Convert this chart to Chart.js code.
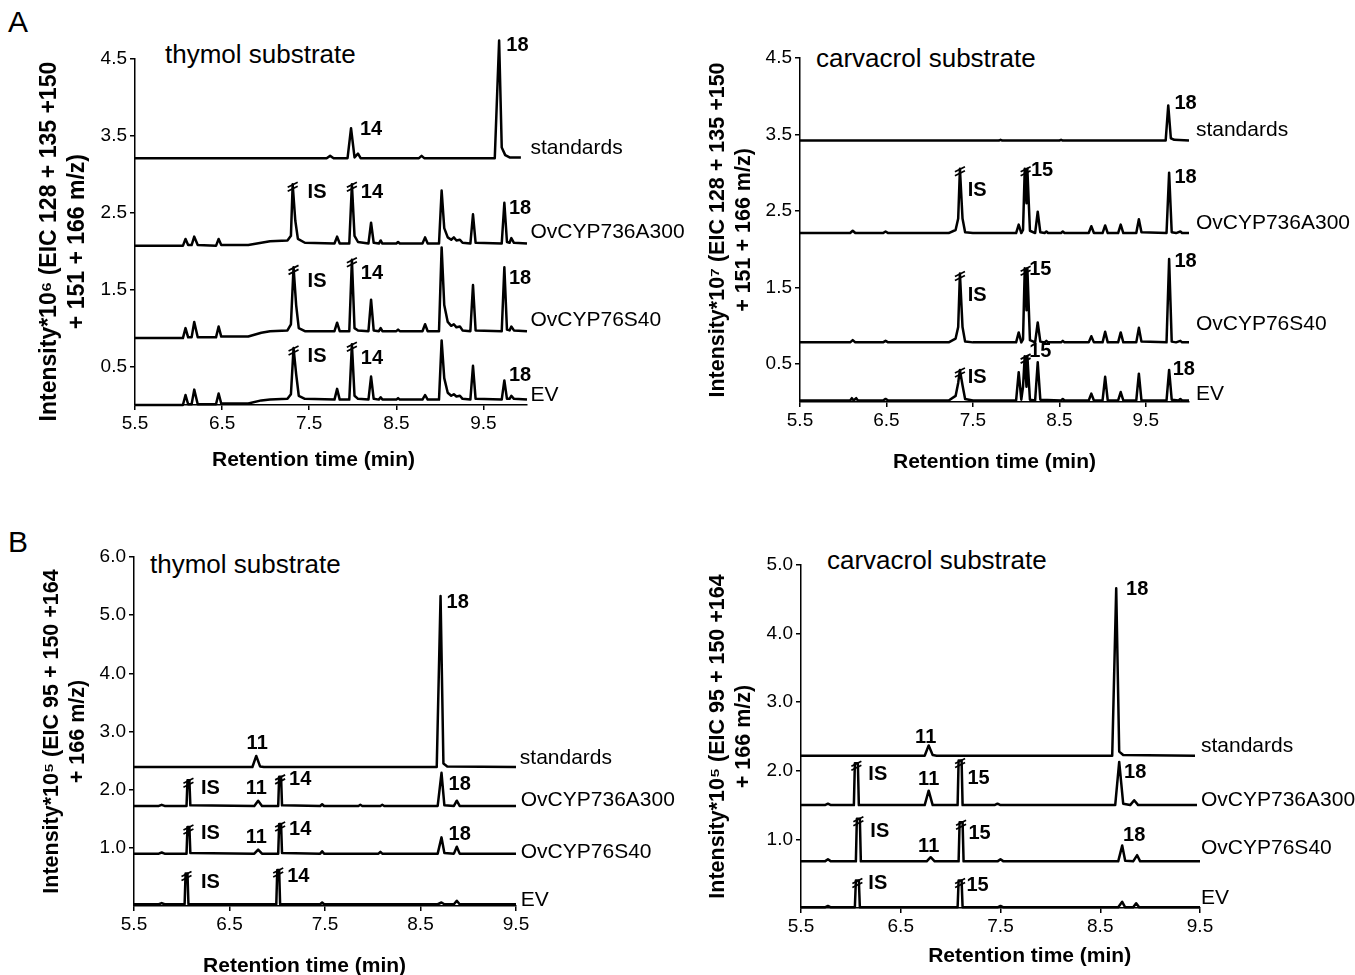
<!DOCTYPE html>
<html>
<head>
<meta charset="utf-8">
<script src="https://cdn.jsdelivr.net/npm/chart.js@4.4.1/dist/chart.umd.min.js"></script>
<style>
  html, body { margin: 0; padding: 0; background: #fff; overflow: hidden; }
  body { width: 1355px; height: 975px; position: relative; font-family: 'Liberation Sans', Arial, sans-serif; color: #000; }
  canvas { position: absolute; }
  .txt { position: absolute; white-space: nowrap; line-height: 1.1; }
  .big { font-size: 30px; }
  .ttl { font-size: 26px; }
</style>
</head>
<body>
<div class="txt big" style="left:8px;top:5px">A</div>
<div class="txt big" style="left:8px;top:525px">B</div>
<div class="txt ttl" style="left:165px;top:40px">thymol substrate</div>
<div class="txt ttl" style="left:816px;top:44px">carvacrol substrate</div>
<div class="txt ttl" style="left:150px;top:550px">thymol substrate</div>
<div class="txt ttl" style="left:827px;top:546px">carvacrol substrate</div>

<canvas id="aLeft" width="690" height="480" style="left:0;top:0"></canvas>
<canvas id="aRight" width="675" height="480" style="left:680px;top:0"></canvas>
<canvas id="bLeft" width="690" height="485" style="left:0;top:500px"></canvas>
<canvas id="bRight" width="675" height="475" style="left:680px;top:500px"></canvas>

<script>
const FONT = "'Liberation Sans', Arial, sans-serif";

// ---- A, thymol substrate (retention time, intensity*10^6) ----
const aLeftStd = [[5.5,3.21],[7.70,3.21],[7.74,3.24],[7.78,3.21],[7.94,3.21],[7.98,3.60],[8.02,3.22],[8.06,3.27],[8.09,3.21],[8.76,3.21],[8.79,3.24],[8.82,3.21],[9.63,3.21],[9.68,4.74],[9.71,3.35],[9.75,3.25],[9.80,3.22],[9.93,3.22]];
const aLeftA300 = [[5.5,2.07],[6.05,2.07],[6.08,2.16],[6.11,2.08],[6.15,2.08],[6.18,2.19],[6.22,2.08],[6.43,2.07],[6.46,2.16],[6.49,2.08],[6.80,2.08],[6.95,2.11],[7.05,2.13],[7.25,2.14],[7.29,2.20],[7.31,2.87],[7.34,2.40],[7.37,2.16],[7.45,2.11],[7.79,2.10],[7.82,2.19],[7.85,2.10],[7.96,2.10],[7.99,2.87],[8.02,2.20],[8.06,2.12],[8.18,2.10],[8.21,2.37],[8.24,2.11],[8.30,2.10],[8.32,2.14],[8.34,2.10],[8.50,2.10],[8.52,2.12],[8.54,2.10],[8.80,2.10],[8.83,2.18],[8.86,2.10],[8.99,2.10],[9.02,2.79],[9.05,2.30],[9.09,2.18],[9.13,2.15],[9.16,2.18],[9.19,2.14],[9.23,2.15],[9.26,2.11],[9.35,2.10],[9.38,2.48],[9.41,2.11],[9.71,2.10],[9.74,2.63],[9.77,2.12],[9.80,2.11],[9.82,2.17],[9.85,2.11],[10.0,2.10]];
const aLeftS40 = [[5.5,0.87],[6.05,0.87],[6.08,1.00],[6.11,0.88],[6.15,0.88],[6.18,1.08],[6.22,0.88],[6.43,0.88],[6.46,1.02],[6.49,0.89],[6.80,0.89],[6.95,0.94],[7.05,0.96],[7.25,0.97],[7.29,1.05],[7.32,1.79],[7.35,1.30],[7.38,1.00],[7.45,0.96],[7.79,0.96],[7.82,1.07],[7.85,0.96],[7.96,0.96],[7.99,1.89],[8.02,1.00],[8.06,0.97],[8.18,0.96],[8.21,1.37],[8.24,0.97],[8.30,0.96],[8.32,1.00],[8.34,0.96],[8.50,0.96],[8.52,0.98],[8.54,0.96],[8.80,0.96],[8.83,1.05],[8.86,0.96],[8.99,0.96],[9.02,2.05],[9.05,1.30],[9.09,1.08],[9.13,1.03],[9.16,1.05],[9.19,1.01],[9.23,1.02],[9.26,0.97],[9.35,0.96],[9.38,1.56],[9.41,0.97],[9.71,0.96],[9.74,1.79],[9.77,0.98],[9.80,0.97],[9.82,1.02],[9.85,0.97],[10.0,0.96]];
const aLeftEV = [[5.5,0.00],[6.05,0.00],[6.08,0.13],[6.11,0.01],[6.15,0.01],[6.18,0.20],[6.22,0.01],[6.43,0.01],[6.46,0.15],[6.49,0.02],[6.80,0.02],[6.95,0.06],[7.05,0.07],[7.25,0.08],[7.29,0.14],[7.32,0.74],[7.35,0.40],[7.38,0.12],[7.45,0.08],[7.79,0.07],[7.82,0.21],[7.85,0.07],[7.96,0.07],[7.99,0.79],[8.02,0.12],[8.06,0.08],[8.18,0.07],[8.21,0.37],[8.24,0.08],[8.30,0.07],[8.32,0.10],[8.34,0.07],[8.50,0.07],[8.52,0.09],[8.54,0.07],[8.80,0.07],[8.83,0.13],[8.86,0.07],[8.99,0.07],[9.02,0.84],[9.05,0.35],[9.09,0.16],[9.13,0.12],[9.16,0.14],[9.19,0.11],[9.23,0.12],[9.26,0.08],[9.35,0.07],[9.38,0.51],[9.41,0.08],[9.71,0.07],[9.74,0.32],[9.77,0.08],[9.80,0.08],[9.82,0.12],[9.85,0.08],[10.0,0.07]];
const aLeftBreaks = [[7.31,2.87],[7.99,2.87],[7.32,1.79],[7.99,1.89],[7.32,0.74],[7.99,0.79]];
const aLeftPeakLabels = [['18',9.89,4.67],['14',8.21,3.58],['IS',7.59,2.76],['14',8.22,2.76],['18',9.92,2.56],['IS',7.59,1.61],['14',8.22,1.71],['18',9.92,1.65],['IS',7.59,0.63],['14',8.22,0.60],['18',9.92,0.38]];
const aLeftTraceLabels = [['standards',10.04,3.34],['OvCYP736A300',10.04,2.25],['OvCYP76S40',10.04,1.10],['EV',10.04,0.13]];

// ---- A, carvacrol substrate (intensity*10^7) ----
const aRightStd = [[5.5,3.42],[7.80,3.42],[7.82,3.43],[7.84,3.42],[8.50,3.42],[8.52,3.43],[8.54,3.42],[9.73,3.42],[9.76,3.88],[9.79,3.45],[9.83,3.43],[10.0,3.42]];
const aRightA300 = [[5.5,2.21],[6.08,2.21],[6.11,2.24],[6.14,2.21],[6.46,2.21],[6.49,2.23],[6.52,2.21],[7.22,2.21],[7.30,2.25],[7.33,2.40],[7.35,3.05],[7.38,2.40],[7.41,2.22],[7.50,2.21],[8.00,2.21],[8.03,2.32],[8.06,2.21],[8.08,2.25],[8.10,3.05],[8.12,2.60],[8.13,3.05],[8.16,2.24],[8.22,2.21],[8.25,2.49],[8.28,2.22],[8.33,2.21],[8.35,2.23],[8.37,2.21],[8.52,2.21],[8.54,2.23],[8.56,2.21],[8.84,2.21],[8.87,2.30],[8.90,2.21],[9.00,2.21],[9.03,2.31],[9.06,2.21],[9.18,2.21],[9.21,2.32],[9.24,2.21],[9.39,2.21],[9.42,2.39],[9.45,2.22],[9.74,2.21],[9.77,3.00],[9.80,2.22],[9.85,2.21],[9.90,2.23],[9.92,2.21],[10.0,2.21]];
const aRightS40 = [[5.5,0.78],[6.08,0.78],[6.11,0.81],[6.14,0.78],[6.46,0.78],[6.49,0.80],[6.52,0.78],[7.22,0.78],[7.30,0.83],[7.33,0.98],[7.35,1.68],[7.38,0.98],[7.41,0.79],[7.50,0.78],[8.00,0.78],[8.03,0.91],[8.06,0.78],[8.08,0.82],[8.10,1.75],[8.12,1.20],[8.13,1.75],[8.16,0.81],[8.22,0.78],[8.25,1.04],[8.28,0.79],[8.33,0.78],[8.35,0.80],[8.37,0.78],[8.52,0.78],[8.54,0.80],[8.56,0.78],[8.84,0.78],[8.87,0.86],[8.90,0.78],[9.00,0.78],[9.03,0.92],[9.06,0.78],[9.18,0.78],[9.21,0.91],[9.24,0.78],[9.39,0.78],[9.42,0.97],[9.45,0.79],[9.74,0.78],[9.77,1.87],[9.80,0.79],[9.85,0.78],[9.90,0.80],[9.92,0.78],[10.0,0.78]];
const aRightEV = [[5.5,0.02],[6.08,0.02],[6.10,0.05],[6.12,0.02],[6.15,0.05],[6.17,0.02],[6.46,0.02],[6.49,0.04],[6.52,0.02],[7.22,0.02],[7.30,0.08],[7.33,0.25],[7.35,0.42],[7.38,0.22],[7.41,0.04],[7.50,0.02],[8.00,0.02],[8.03,0.39],[8.06,0.03],[8.08,0.20],[8.10,0.60],[8.12,0.20],[8.13,0.60],[8.16,0.03],[8.22,0.02],[8.25,0.52],[8.28,0.03],[8.52,0.02],[8.54,0.04],[8.56,0.02],[8.84,0.02],[8.87,0.11],[8.90,0.02],[9.00,0.02],[9.03,0.33],[9.06,0.02],[9.18,0.02],[9.21,0.13],[9.24,0.02],[9.39,0.02],[9.42,0.37],[9.45,0.02],[9.74,0.02],[9.77,0.42],[9.80,0.03],[9.88,0.02],[9.90,0.04],[9.92,0.02],[10.0,0.02]];
const aRightBreaks = [[7.35,3.05],[8.11,3.05],[7.35,1.68],[8.11,1.75],[7.35,0.42],[8.11,0.60]];
const aRightPeakLabels = [['18',9.96,3.91],['IS',7.55,2.77],['15',8.30,3.03],['18',9.96,2.94],['IS',7.55,1.39],['15',8.28,1.74],['18',9.96,1.84],['IS',7.55,0.32],['15',8.28,0.66],['18',9.94,0.42]];
const aRightTraceLabels = [['standards',10.08,3.55],['OvCYP736A300',10.08,2.34],['OvCYP76S40',10.08,1.02],['EV',10.08,0.10]];

// ---- B, thymol substrate (intensity*10^5) ----
const bLeftStd = [[5.5,2.39],[6.74,2.39],[6.78,2.58],[6.82,2.40],[6.86,2.39],[8.67,2.39],[8.71,5.33],[8.74,2.45],[8.78,2.40],[9.5,2.39]];
const bLeftA300 = [[5.5,1.72],[5.76,1.72],[5.79,1.74],[5.82,1.72],[6.05,1.72],[6.06,2.16],[6.08,2.16],[6.09,1.73],[6.76,1.72],[6.80,1.81],[6.84,1.72],[7.01,1.72],[7.02,2.22],[7.04,2.22],[7.05,1.73],[7.45,1.72],[7.47,1.75],[7.49,1.72],[7.85,1.72],[7.87,1.74],[7.89,1.72],[8.08,1.72],[8.10,1.74],[8.12,1.72],[8.68,1.72],[8.72,2.29],[8.75,1.73],[8.85,1.72],[8.88,1.81],[8.91,1.72],[9.5,1.72]];
const bLeftS40 = [[5.5,0.90],[5.76,0.90],[5.79,0.92],[5.82,0.90],[6.05,0.90],[6.06,1.36],[6.08,1.36],[6.09,0.91],[6.76,0.90],[6.80,0.97],[6.84,0.90],[7.01,0.90],[7.02,1.41],[7.04,1.41],[7.05,0.91],[7.45,0.90],[7.47,0.94],[7.49,0.90],[8.06,0.90],[8.08,0.93],[8.10,0.90],[8.68,0.90],[8.72,1.18],[8.75,0.91],[8.85,0.90],[8.88,1.02],[8.91,0.90],[9.5,0.90]];
const bLeftEV = [[5.5,0.03],[5.76,0.03],[5.79,0.05],[5.82,0.03],[6.03,0.03],[6.04,0.56],[6.06,0.56],[6.07,0.03],[6.99,0.03],[7.00,0.62],[7.02,0.62],[7.03,0.03],[7.45,0.03],[7.47,0.06],[7.49,0.03],[8.68,0.03],[8.72,0.06],[8.75,0.03],[8.85,0.03],[8.88,0.09],[8.91,0.03],[9.5,0.03]];
const bLeftBreaks = [[6.07,2.16],[7.03,2.22],[6.07,1.36],[7.03,1.41],[6.05,0.56],[7.01,0.62]];
const bLeftPeakLabels = [['18',8.89,5.21],['11',6.79,2.80],['IS',6.30,2.02],['11',6.78,2.02],['14',7.24,2.18],['18',8.91,2.09],['IS',6.30,1.25],['11',6.78,1.17],['14',7.24,1.32],['18',8.91,1.23],['IS',6.30,0.41],['14',7.22,0.51]];
const bLeftTraceLabels = [['standards',9.54,2.54],['OvCYP736A300',9.55,1.82],['OvCYP76S40',9.55,0.93],['EV',9.55,0.10]];

// ---- B, carvacrol substrate (intensity*10^5) ----
const bRightStd = [[5.5,2.22],[6.74,2.22],[6.78,2.37],[6.82,2.23],[6.86,2.22],[8.62,2.22],[8.66,4.66],[8.69,2.28],[8.73,2.23],[9.45,2.22]];
const bRightA300 = [[5.5,1.50],[5.74,1.50],[5.77,1.52],[5.80,1.50],[6.03,1.50],[6.04,2.11],[6.07,2.11],[6.08,1.50],[6.74,1.50],[6.78,1.71],[6.82,1.50],[7.07,1.50],[7.08,2.15],[7.11,2.15],[7.12,1.50],[7.44,1.50],[7.47,1.52],[7.50,1.50],[8.65,1.50],[8.69,2.13],[8.73,1.52],[8.80,1.50],[8.84,1.57],[8.88,1.50],[9.47,1.50]];
const bRightS40 = [[5.5,0.68],[5.74,0.68],[5.77,0.71],[5.80,0.68],[6.05,0.68],[6.06,1.30],[6.09,1.30],[6.10,0.68],[6.76,0.68],[6.80,0.74],[6.84,0.68],[7.08,0.68],[7.09,1.25],[7.12,1.25],[7.13,0.68],[7.47,0.68],[7.50,0.71],[7.53,0.68],[8.68,0.68],[8.72,0.91],[8.75,0.69],[8.83,0.68],[8.87,0.77],[8.90,0.68],[9.5,0.68]];
const bRightEV = [[5.5,0.01],[5.74,0.01],[5.77,0.03],[5.80,0.01],[6.04,0.01],[6.05,0.40],[6.08,0.40],[6.09,0.01],[7.07,0.01],[7.08,0.40],[7.11,0.40],[7.12,0.01],[7.47,0.01],[7.50,0.03],[7.53,0.01],[8.68,0.01],[8.72,0.09],[8.75,0.01],[8.83,0.01],[8.86,0.07],[8.89,0.01],[9.5,0.01]];
const bRightBreaks = [[6.055,2.11],[7.095,2.15],[6.075,1.30],[7.105,1.25],[6.065,0.40],[7.095,0.40]];
const bRightPeakLabels = [['18',8.87,4.65],['11',6.75,2.49],['IS',6.27,1.95],['11',6.78,1.88],['15',7.28,1.89],['18',8.85,1.97],['IS',6.29,1.12],['11',6.78,0.90],['15',7.29,1.08],['18',8.84,1.05],['IS',6.27,0.36],['15',7.27,0.33]];
const bRightTraceLabels = [['standards',9.51,2.36],['OvCYP736A300',9.51,1.57],['OvCYP76S40',9.51,0.87],['EV',9.51,0.14]];

// tick values
const xTicks = [5.5, 6.5, 7.5, 8.5, 9.5];
const aYTicks = [0.5, 1.5, 2.5, 3.5, 4.5];
const bLeftYTicks = [1.0, 2.0, 3.0, 4.0, 5.0, 6.0];
const bRightYTicks = [1.0, 2.0, 3.0, 4.0, 5.0];

// peak numbers, trace names and the "//" breaks on cut peaks
const annotate = {
    id: 'annotate',
    afterDatasetsDraw(chart, args, opts) {
        const ctx = chart.ctx;
        const x = chart.scales.x, y = chart.scales.y;
        ctx.save();
        ctx.fillStyle = '#000';
        ctx.strokeStyle = '#000';
        ctx.textBaseline = 'middle';

        ctx.font = 'bold 20px ' + FONT;
        ctx.textAlign = 'center';
        opts.peaks.forEach(function(p) {
            ctx.fillText(p[0], x.getPixelForValue(p[1]), y.getPixelForValue(p[2]));
        });

        ctx.font = '21px ' + FONT;
        ctx.textAlign = 'left';
        opts.traces.forEach(function(p) {
            ctx.fillText(p[0], x.getPixelForValue(p[1]), y.getPixelForValue(p[2]));
        });

        ctx.lineWidth = 1.7;
        opts.breaks.forEach(function(b) {
            const px = x.getPixelForValue(b[0]), py = y.getPixelForValue(b[1]);
            [0, 4].forEach(function(dy) {
                ctx.beginPath();
                ctx.moveTo(px - 5, py + 3 + dy);
                ctx.lineTo(px + 5, py - 2 + dy);
                ctx.stroke();
            });
        });
        ctx.restore();
    }
};

function makeChart(id, g) {
    const ctx = document.getElementById(id).getContext('2d');
    return new Chart(ctx, {
        type: 'line',
        data: {
            datasets: g.traces.map(function(tr) {
                return {
                    data: tr.map(function(p) { return { x: p[0], y: p[1] }; }),
                    borderColor: '#000',
                    borderWidth: 2.5,
                    borderJoinStyle: 'round',
                    pointRadius: 0,
                    tension: 0,
                    fill: false,
                    clip: false
                };
            })
        },
        options: {
            responsive: false,
            animation: false,
            events: [],
            layout: { padding: { left: g.padLeft, top: g.padTop, right: g.padRight, bottom: 0 } },
            plugins: {
                legend: { display: false },
                tooltip: { enabled: false },
                annotate: { peaks: g.peaks, traces: g.labels, breaks: g.breaks }
            },
            scales: {
                x: {
                    type: 'linear',
                    min: 5.5,
                    max: g.xMax,
                    afterBuildTicks: function(scale) { scale.ticks = xTicks.map(function(v) { return { value: v }; }); },
                    afterFit: function(scale) { scale.height = g.xHeight; },
                    ticks: {
                        color: '#000',
                        font: { size: 19, family: FONT },
                        padding: 2,
                        maxRotation: 0,
                        callback: function(v) { return v.toFixed(1); }
                    },
                    grid: { display: true, drawOnChartArea: false, drawTicks: true, tickLength: 5, color: '#000', lineWidth: 1.5 },
                    border: { display: true, color: '#000', width: 1.5 },
                    title: {
                        display: true,
                        text: g.xTitle,
                        color: '#000',
                        font: { size: 21, weight: 'bold', family: FONT },
                        padding: { top: 0, bottom: g.xTitlePad }
                    }
                },
                y: {
                    type: 'linear',
                    min: 0,
                    max: g.yMax,
                    afterBuildTicks: function(scale) { scale.ticks = g.yTicks.map(function(v) { return { value: v }; }); },
                    afterFit: function(scale) { scale.width = g.yWidth; },
                    ticks: {
                        color: '#000',
                        font: { size: 19, family: FONT },
                        padding: 3,
                        callback: function(v) { return v.toFixed(1); }
                    },
                    grid: { display: true, drawOnChartArea: false, drawTicks: true, tickLength: 5, color: '#000', lineWidth: 1.5 },
                    border: { display: true, color: '#000', width: 1.5 },
                    title: {
                        display: true,
                        text: g.yTitle,
                        color: '#000',
                        font: { size: g.yTitleSize, weight: 'bold', family: FONT, lineHeight: 1.2 },
                        padding: 0
                    }
                }
            }
        },
        plugins: [annotate]
    });
}

makeChart('aLeft', {
    traces: [aLeftStd, aLeftA300, aLeftS40, aLeftEV],
    peaks: aLeftPeakLabels, labels: aLeftTraceLabels, breaks: aLeftBreaks,
    xMax: 10.0, yMax: 4.5, yTicks: aYTicks,
    xTitle: 'Retention time (min)      ',
    yTitle: ['Intensity*10\u2076 (EIC 128 + 135 +150   ', '+ 151 + 166 m/z)   '], yTitleSize: 23,
    padLeft: 36, padTop: 59, padRight: 163, yWidth: 99, xHeight: 75, xTitlePad: 7
});

makeChart('aRight', {
    traces: [aRightStd, aRightA300, aRightS40, aRightEV],
    peaks: aRightPeakLabels, labels: aRightTraceLabels, breaks: aRightBreaks,
    xMax: 10.0, yMax: 4.5, yTicks: aYTicks,
    xTitle: 'Retention time (min)',
    yTitle: ['Intensity*10\u2077 (EIC 128 + 135 +150', '+ 151 + 166 m/z)'], yTitleSize: 21.5,
    padLeft: 25, padTop: 58, padRight: 166, yWidth: 95, xHeight: 78, xTitlePad: 5
});

makeChart('bLeft', {
    traces: [bLeftStd, bLeftA300, bLeftS40, bLeftEV],
    peaks: bLeftPeakLabels, labels: bLeftTraceLabels, breaks: bLeftBreaks,
    xMax: 9.5, yMax: 6.0, yTicks: bLeftYTicks,
    xTitle: 'Retention time (min)       ',
    yTitle: ['Intensity*10\u2075 (EIC 95 + 150 +164', '+ 166 m/z)'], yTitleSize: 21.5,
    padLeft: 39, padTop: 57, padRight: 174, yWidth: 95, xHeight: 79, xTitlePad: 6
});

makeChart('bRight', {
    traces: [bRightStd, bRightA300, bRightS40, bRightEV],
    peaks: bRightPeakLabels, labels: bRightTraceLabels, breaks: bRightBreaks,
    xMax: 9.5, yMax: 5.0, yTicks: bRightYTicks,
    xTitle: '          Retention time (min)',
    yTitle: ['Intensity*10\u2075 (EIC 95 + 150 +164', '+ 166 m/z)'], yTitleSize: 21.5,
    padLeft: 25, padTop: 65, padRight: 155, yWidth: 96, xHeight: 67, xTitlePad: 6
});
</script>
</body>
</html>
